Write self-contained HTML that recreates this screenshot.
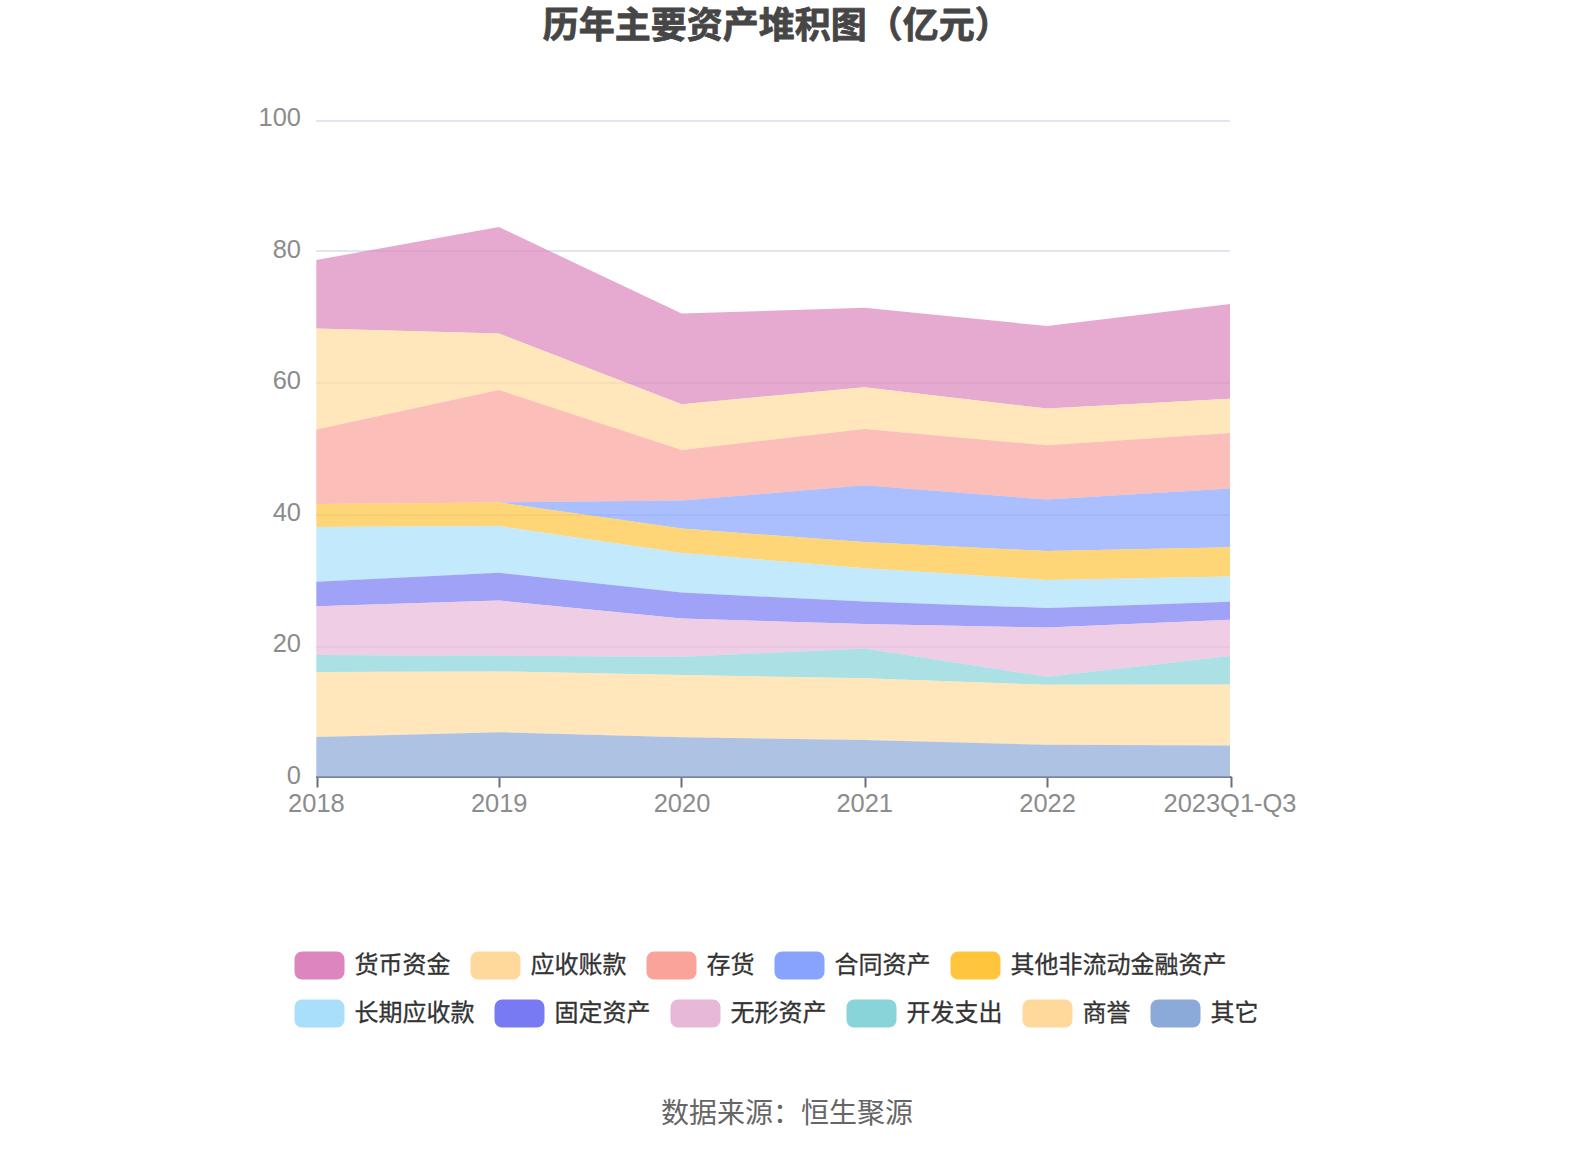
<!DOCTYPE html>
<html lang="zh-CN">
<head>
<meta charset="utf-8">
<title>历年主要资产堆积图（亿元）</title>
<style>
html,body{margin:0;padding:0;background:#fff;}
body{width:1574px;height:1150px;overflow:hidden;}
svg{display:block;}
text{font-family:"Liberation Sans","Noto Sans CJK SC",sans-serif;}
.title{font-size:36px;font-weight:bold;fill:#464646;stroke:#464646;stroke-width:0.8px;stroke-linejoin:round;}
.ax{font-size:26.7px;fill:#8c8c8c;}
.lg text{font-size:24px;fill:#333;stroke:#333;stroke-width:0.3px;}
.src{font-size:28px;fill:#666;}
</style>
</head>
<body>
<svg width="1574" height="1150" viewBox="0 0 1574 1150">
<rect width="1574" height="1150" fill="#fff"/>
<text class="title" x="542.7" y="38.4">历年主要资产堆积图（亿元）</text>
<g fill="#E0E6F1">
<rect x="316" y="120" width="914" height="2"/>
<rect x="316" y="250" width="914" height="2"/>
<rect x="316" y="382" width="914" height="2"/>
<rect x="316" y="514" width="914" height="2"/>
<rect x="316" y="646" width="914" height="2"/>
</g>
<g fill="#6E7079">
<rect x="316" y="776" width="915.5" height="2"/>
<rect x="316.5" y="777" width="2" height="10.5"/>
<rect x="498.5" y="777" width="2" height="10.5"/>
<rect x="680.5" y="777" width="2" height="10.5"/>
<rect x="864.5" y="777" width="2" height="10.5"/>
<rect x="1046.5" y="777" width="2" height="10.5"/>
<rect x="1230.5" y="777" width="2" height="10.5"/>
</g>
<g fill-opacity="0.7">
<polygon fill="#DC86BD" points="316.3,260.0 498.8,227.0 681.7,313.6 864.4,307.8 1047.2,326.0 1230.0,303.9 1230.0,398.8 1047.2,408.6 864.4,387.2 681.7,404.2 498.8,333.4 316.3,328.4"/>
<polygon fill="#FFDC9E" points="316.3,328.4 498.8,333.4 681.7,404.2 864.4,387.2 1047.2,408.6 1230.0,398.8 1230.0,432.9 1047.2,445.3 864.4,429.0 681.7,450.0 498.8,389.9 316.3,429.4"/>
<polygon fill="#F9A39A" points="316.3,429.4 498.8,389.9 681.7,450.0 864.4,429.0 1047.2,445.3 1230.0,432.9 1230.0,488.4 1047.2,499.6 864.4,485.3 681.7,500.6 498.8,502.4 316.3,504.0"/>
<polygon fill="#88A3FC" points="316.3,504.0 498.8,502.4 681.7,500.6 864.4,485.3 1047.2,499.6 1230.0,488.4 1230.0,547.2 1047.2,551.1 864.4,542.0 681.7,528.6 498.8,502.4 316.3,504.0"/>
<polygon fill="#FFC53D" points="316.3,504.0 498.8,502.4 681.7,528.6 864.4,542.0 1047.2,551.1 1230.0,547.2 1230.0,576.5 1047.2,579.9 864.4,568.2 681.7,553.0 498.8,526.1 316.3,527.1"/>
<polygon fill="#A9DFFB" points="316.3,527.1 498.8,526.1 681.7,553.0 864.4,568.2 1047.2,579.9 1230.0,576.5 1230.0,601.8 1047.2,607.9 864.4,601.6 681.7,592.6 498.8,572.7 316.3,581.7"/>
<polygon fill="#787AF4" points="316.3,581.7 498.8,572.7 681.7,592.6 864.4,601.6 1047.2,607.9 1230.0,601.8 1230.0,619.8 1047.2,627.5 864.4,624.1 681.7,618.4 498.8,600.5 316.3,606.2"/>
<polygon fill="#E8B8D8" points="316.3,606.2 498.8,600.5 681.7,618.4 864.4,624.1 1047.2,627.5 1230.0,619.8 1230.0,655.9 1047.2,676.7 864.4,648.6 681.7,656.8 498.8,655.7 316.3,655.0"/>
<polygon fill="#88D4D8" points="316.3,655.0 498.8,655.7 681.7,656.8 864.4,648.6 1047.2,676.7 1230.0,655.9 1230.0,684.6 1047.2,684.8 864.4,678.3 681.7,675.1 498.8,671.4 316.3,671.9"/>
<polygon fill="#FFDC9E" points="316.3,671.9 498.8,671.4 681.7,675.1 864.4,678.3 1047.2,684.8 1230.0,684.6 1230.0,745.5 1047.2,744.7 864.4,739.9 681.7,737.2 498.8,732.3 316.3,736.9"/>
<polygon fill="#8CAAD9" points="316.3,736.9 498.8,732.3 681.7,737.2 864.4,739.9 1047.2,744.7 1230.0,745.5 1230.0,777.5 1047.2,777.5 864.4,777.5 681.7,777.5 498.8,777.5 316.3,777.5"/>
</g>
<g class="ax" text-anchor="end">
<text transform="translate(301,125.90) scale(0.954,1)">100</text>
<text transform="translate(301,257.50) scale(0.954,1)">80</text>
<text transform="translate(301,389.10) scale(0.954,1)">60</text>
<text transform="translate(301,520.70) scale(0.954,1)">40</text>
<text transform="translate(301,652.30) scale(0.954,1)">20</text>
<text transform="translate(301,783.90) scale(0.954,1)">0</text>
</g>
<g class="ax" text-anchor="middle">
<text transform="translate(316.4,812.4) scale(0.954,1)">2018</text>
<text transform="translate(499.2,812.4) scale(0.954,1)">2019</text>
<text transform="translate(682,812.4) scale(0.954,1)">2020</text>
<text transform="translate(864.7,812.4) scale(0.954,1)">2021</text>
<text transform="translate(1047.6,812.4) scale(0.954,1)">2022</text>
<text transform="translate(1230,812.4) scale(0.954,1)">2023Q1-Q3</text>
</g>
<g class="lg">
<rect x="294.5" y="951.5" width="50" height="28" rx="7.6" ry="7.6" fill="#DC86BD"/><text x="354.5" y="972.7">货币资金</text>
<rect x="470.5" y="951.5" width="50" height="28" rx="7.6" ry="7.6" fill="#FFD99C"/><text x="530.5" y="972.7">应收账款</text>
<rect x="646.5" y="951.5" width="50" height="28" rx="7.6" ry="7.6" fill="#F9A39A"/><text x="706.5" y="972.7">存货</text>
<rect x="774.5" y="951.5" width="50" height="28" rx="7.6" ry="7.6" fill="#88A3FC"/><text x="834.5" y="972.7">合同资产</text>
<rect x="950.5" y="951.5" width="50" height="28" rx="7.6" ry="7.6" fill="#FFC53D"/><text x="1010.5" y="972.7">其他非流动金融资产</text>
<rect x="294.5" y="999.5" width="50" height="28" rx="7.6" ry="7.6" fill="#A9DFFB"/><text x="354.5" y="1020.7">长期应收款</text>
<rect x="494.5" y="999.5" width="50" height="28" rx="7.6" ry="7.6" fill="#787AF4"/><text x="554.5" y="1020.7">固定资产</text>
<rect x="670.5" y="999.5" width="50" height="28" rx="7.6" ry="7.6" fill="#E8B8D8"/><text x="730.5" y="1020.7">无形资产</text>
<rect x="846.5" y="999.5" width="50" height="28" rx="7.6" ry="7.6" fill="#88D4D8"/><text x="906.5" y="1020.7">开发支出</text>
<rect x="1022.5" y="999.5" width="50" height="28" rx="7.6" ry="7.6" fill="#FFD99C"/><text x="1082.5" y="1020.7">商誉</text>
<rect x="1150.5" y="999.5" width="50" height="28" rx="7.6" ry="7.6" fill="#8CAAD9"/><text x="1210.5" y="1020.7">其它</text>
</g>
<text class="src" x="787" y="1122.8" text-anchor="middle">数据来源：恒生聚源</text>
</svg>
</body>
</html>
